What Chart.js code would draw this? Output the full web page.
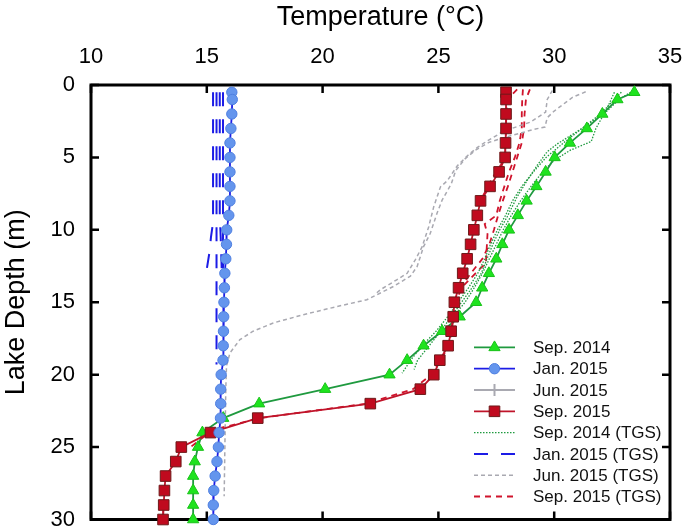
<!DOCTYPE html>
<html>
<head>
<meta charset="utf-8">
<script src="https://cdn.jsdelivr.net/npm/chart.js@4.4.1/dist/chart.umd.min.js"></script>
<style>
  html, body { margin: 0; padding: 0; background: #fff; }
</style>
</head>
<body>
<canvas id="chart" width="685" height="528"></canvas>
<script>
const FONT = "'Liberation Sans', Arial, sans-serif";

// profiler readings, depth in m / temperature in °C
const depths = [0.5, 1, 2, 3, 4, 5, 6, 7, 8, 9, 10, 11, 12, 13, 14, 15, 16, 17, 18, 19, 20, 21, 22, 23, 24, 25, 26, 27, 28, 29, 30];
const sep2014 = [33.46, 32.73, 32.08, 31.41, 30.68, 30.02, 29.63, 29.23, 28.81, 28.43, 28.05, 27.76, 27.5, 27.18, 26.89, 26.63, 25.92, 25.16, 24.36, 23.65, 22.89, 20.11, 17.26, 15.71, 14.81, 14.62, 14.48, 14.41, 14.41, 14.41, 14.41];
const jan2015 = [16.08, 16.1, 16.08, 16.04, 16.0, 16.0, 16.0, 16.0, 16.0, 15.95, 15.86, 15.85, 15.82, 15.78, 15.76, 15.74, 15.73, 15.72, 15.71, 15.7, 15.62, 15.6, 15.6, 15.59, 15.53, 15.5, 15.44, 15.36, 15.3, 15.28, 15.28];
const jun2015 = [];
const sep2015 = [27.92, 27.92, 27.92, 27.92, 27.9, 27.88, 27.62, 27.23, 26.82, 26.68, 26.53, 26.39, 26.24, 26.05, 25.87, 25.69, 25.64, 25.55, 25.42, 25.06, 24.8, 24.22, 22.06, 17.2, 15.16, 13.9, 13.66, 13.22, 13.17, 13.14, 13.11];

// TGS profiles, [depth, temperature] pairs
const tgsSep2014A = [[0.5, 33.3], [1, 32.8], [2, 32.15], [3, 31.8], [3.9, 31.6], [4.5, 30.7], [5.2, 30.0], [6, 29.5], [7, 29.0], [8, 28.55], [9, 28.15], [10, 27.8], [11, 27.5], [12, 27.2], [13, 26.9], [14, 26.55], [15, 26.15], [16, 25.65], [16.3, 25.5]];
const tgsSep2014B = [[0.5, 32.6], [1.9, 32.2], [2.8, 31.4], [3.6, 30.6], [4.05, 30.15], [4.6, 29.7], [5.54, 29.27], [6.57, 28.84], [7.72, 28.4], [9.1, 27.97], [10, 27.65], [11, 27.35], [12, 27.1], [13, 26.85], [14, 26.45], [15, 26.0], [16, 25.55], [17, 25.1], [18, 24.6], [19, 24.1], [19.65, 23.95]];
const tgsSep2014C = [[0.5, 32.9], [1, 32.6], [2, 32.0], [3, 31.2], [4, 30.4], [5, 29.65], [6, 29.1], [7, 28.6], [8, 28.2], [9, 27.9], [10, 27.55], [11, 27.25], [12, 27.0], [13, 26.7], [14, 26.3], [15, 25.85], [16, 25.4], [17, 24.9], [18, 24.3], [19, 23.8], [19.9, 23.43]];
const tgsJan2015A = [[0.5, 15.27], [9.5, 15.27], [10.5, 15.18], [11.5, 15.12], [13, 14.97]];
const tgsJan2015B = [[0.5, 15.42], [19.3, 15.42]];
const tgsJan2015C = [[0.5, 15.56], [9, 15.56], [10.5, 15.6], [13, 15.65]];
const tgsJan2015D = [[0.5, 15.7], [10, 15.7], [13, 15.7]];
const tgsJun2015A = [[0.47, 31.36], [0.84, 30.8], [1.2, 30.5], [1.8, 30.0], [2.26, 29.7], [2.9, 29.6], [3.06, 29.13], [3.3, 28.6], [3.6, 27.9], [3.95, 27.2], [4.5, 26.6], [5.1, 26.15], [5.9, 25.75], [6.85, 25.55], [7.95, 25.16], [8.86, 24.94], [10.24, 24.65], [11.16, 24.36], [12.54, 24.08], [13.2, 23.79], [13.9, 23.07], [14.83, 21.91], [15.3, 20.61], [15.86, 19.17], [16.43, 17.87], [17.0, 17.0], [17.58, 16.43], [18.5, 16.0], [19.4, 15.85], [21, 15.82], [23, 15.8], [25, 15.78], [28.4, 15.75]];
const tgsJun2015B = [[0.38, 29.92], [1.0, 29.7], [1.87, 29.63], [2.56, 28.98], [3.18, 27.83], [3.87, 27.1], [4.33, 26.67], [4.9, 26.24], [5.59, 25.81], [6.62, 25.38], [7.03, 25.09], [8.4, 24.8], [9.8, 24.58], [11.16, 24.3], [12.08, 24.0], [13.0, 23.65], [13.45, 23.2], [14.14, 22.49], [14.4, 22.3]];
const tgsSep2015A = [[0.3, 28.4], [0.8, 28.1], [1.2, 27.95], [5, 27.88], [5.5, 27.7], [6.5, 27.3], [7, 27.15], [8, 26.8]];
const tgsSep2015B = [[0.3, 28.65], [1, 28.62], [2, 28.6], [3, 28.6], [4, 28.5], [5, 28.3], [6, 28.05], [7, 27.85], [8, 27.65], [9, 27.5], [9.6, 27.0], [10.3, 27.12], [12.3, 27.05], [13, 26.6], [14, 26.0], [15, 25.75], [16, 25.66], [17, 25.57], [18, 25.44], [19, 25.1], [20, 24.7], [21, 23.9], [22, 21.9], [23, 17.3], [23.8, 15.3], [24.5, 14.7], [25, 14.3]];
const tgsSep2015C = [[0.3, 28.95], [1, 28.78], [2, 28.72], [3, 28.7], [4, 28.6], [5, 28.4], [6, 28.2], [7, 28.0], [8, 27.78], [9, 27.58], [10, 27.4], [11, 27.2], [12, 26.9], [13, 26.4], [14, 25.95]];

const profile = (temps) => temps.map((t, i) => ({ x: t, y: depths[i] }));
const pairs = (list) => list.map(p => ({ x: p[1], y: p[0] }));

const GREEN = '#1f9a3f', BLUE = '#1c1ce6', GRAY = '#a9a9b1', RED = '#c0142a';

function measured(label, temps, color, style, fill, edge, radius, order) {
  return {
    label, data: profile(temps), showLine: true, clip: false, order,
    borderColor: color, borderWidth: 1.8,
    pointStyle: style, pointRadius: radius, pointHoverRadius: radius,
    pointBackgroundColor: fill, pointBorderColor: edge, pointBorderWidth: 1,
    legendEntry: true
  };
}

function tgs(label, list, color, width, dash, first) {
  return {
    label, data: pairs(list), showLine: true, clip: false, order: 10,
    borderColor: color, borderWidth: width, borderDash: dash,
    pointRadius: 0, pointHoverRadius: 0, legendEntry: first
  };
}

const datasets = [
  measured('Sep. 2014', sep2014, GREEN, 'triangle', '#1ee31e', '#19c219', 6.5, 3),
  measured('Jan. 2015', jan2015, BLUE, 'circle', '#6495ed', '#4f7fe0', 5.2, 1),
  measured('Jun. 2015', jun2015, GRAY, 'cross', GRAY, GRAY, 6, 4),
  measured('Sep. 2015', sep2015, RED, 'rect', '#c00a1e', '#6d1a1a', 7.5, 2),
  tgs('Sep. 2014 (TGS)', tgsSep2014A, GREEN, 1.3, [1.5, 1.5], true),
  tgs('Sep. 2014 (TGS)', tgsSep2014B, GREEN, 1.3, [1.5, 1.5], false),
  tgs('Sep. 2014 (TGS)', tgsSep2014C, GREEN, 1.3, [1.5, 1.5], false),
  tgs('Jan. 2015 (TGS)', tgsJan2015A, BLUE, 2, [14, 13], true),
  tgs('Jan. 2015 (TGS)', tgsJan2015B, BLUE, 2, [14, 13], false),
  tgs('Jan. 2015 (TGS)', tgsJan2015C, BLUE, 2, [14, 13], false),
  tgs('Jan. 2015 (TGS)', tgsJan2015D, BLUE, 2, [14, 13], false),
  tgs('Jun. 2015 (TGS)', tgsJun2015A, GRAY, 1.5, [4, 3], true),
  tgs('Jun. 2015 (TGS)', tgsJun2015B, GRAY, 1.5, [4, 3], false),
  tgs('Sep. 2015 (TGS)', tgsSep2015A, '#d0142c', 1.8, [6, 5], true),
  tgs('Sep. 2015 (TGS)', tgsSep2015B, '#d0142c', 1.8, [6, 5], false),
  tgs('Sep. 2015 (TGS)', tgsSep2015C, '#d0142c', 1.8, [6, 5], false)
];

// box round the plot with inward tick marks
const framePlugin = {
  id: 'frame',
  beforeDatasetsDraw(chart) {
    const { ctx, chartArea: a, scales: { x, y } } = chart;
    ctx.save();
    ctx.strokeStyle = '#000';
    ctx.lineWidth = 2.5;
    ctx.beginPath();
    x.ticks.forEach(t => {
      const px = x.getPixelForValue(t.value);
      ctx.moveTo(px, a.top); ctx.lineTo(px, a.top + 8);
      ctx.moveTo(px, a.bottom); ctx.lineTo(px, a.bottom - 8);
    });
    y.ticks.forEach(t => {
      const py = y.getPixelForValue(t.value);
      ctx.moveTo(a.left, py); ctx.lineTo(a.left + 8, py);
      ctx.moveTo(a.right, py); ctx.lineTo(a.right - 8, py);
    });
    ctx.stroke();
    ctx.lineWidth = 3;
    ctx.strokeRect(a.left, a.top, a.right - a.left, a.bottom - a.top);
    ctx.restore();
  }
};

// legend inside the lower right of the plot
const legendPlugin = {
  id: 'insideLegend',
  afterDraw(chart) {
    const { ctx, chartArea: a } = chart;
    const items = chart.data.datasets.filter(d => d.legendEntry);
    const x0 = a.right - 196, x1 = a.right - 155, tx = a.right - 137;
    ctx.save();
    ctx.font = '17px ' + FONT;
    ctx.textBaseline = 'middle';
    ctx.textAlign = 'left';
    items.forEach((d, i) => {
      const yy = a.bottom - 23 - (items.length - 1 - i) * 21.3;
      ctx.strokeStyle = d.borderColor;
      ctx.lineWidth = d.borderWidth;
      ctx.setLineDash(d.borderDash || []);
      ctx.beginPath();
      ctx.moveTo(x0, yy); ctx.lineTo(x1, yy);
      ctx.stroke();
      ctx.setLineDash([]);
      if (d.pointRadius > 0) {
        ctx.fillStyle = d.pointBackgroundColor;
        ctx.strokeStyle = d.pointBorderColor;
        ctx.lineWidth = d.pointStyle === 'cross' ? 2 : 1;
        Chart.helpers.drawPoint(ctx, {
          pointStyle: d.pointStyle, radius: d.pointRadius, rotation: 0,
          borderWidth: ctx.lineWidth
        }, (x0 + x1) / 2, yy);
      }
      ctx.fillStyle = '#111';
      ctx.fillText(d.label, tx, yy + 1);
    });
    ctx.restore();
  }
};

new Chart(document.getElementById('chart'), {
  type: 'scatter',
  data: { datasets },
  options: {
    responsive: false,
    animation: false,
    layout: { padding: { left: 0, top: 0, right: 15, bottom: 8 } },
    plugins: { legend: { display: false }, tooltip: { enabled: false } },
    scales: {
      x: {
        type: 'linear', position: 'top', min: 10, max: 35,
        ticks: { stepSize: 5, padding: 15, color: '#000', font: { family: FONT, size: 22 } },
        grid: { display: false, drawTicks: false },
        border: { display: false },
        title: { display: true, text: 'Temperature (°C)', color: '#000', font: { family: FONT, size: 27 }, padding: { top: 1, bottom: 0 } },
        afterFit(s) { s.height = 85; s.paddingLeft = 0; s.paddingRight = 0; }
      },
      y: {
        type: 'linear', position: 'left', reverse: true, min: 0, max: 30,
        ticks: { stepSize: 5, padding: 16, color: '#000', font: { family: FONT, size: 22 } },
        grid: { display: false, drawTicks: false },
        border: { display: false },
        title: { display: true, text: 'Lake Depth (m)', color: '#000', font: { family: FONT, size: 27 }, padding: { top: 0, bottom: 0 } },
        afterFit(s) { s.width = 91; s.paddingTop = 0; s.paddingBottom = 0; }
      }
    }
  },
  plugins: [framePlugin, legendPlugin]
});
</script>
</body>
</html>
